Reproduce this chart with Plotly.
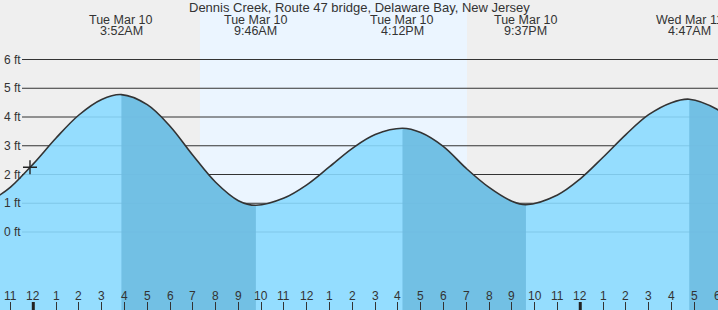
import plotly.graph_objects as go

# ---------------- data (hours relative to Tue Mar 10 00:00) ----------------
title_text = "Dennis Creek, Route 47 bridge, Delaware Bay, New Jersey"

curve_hours = [-1.5, -1, 0, 1, 2, 3, 3.867, 5, 6, 7, 8, 9, 9.767,
               11, 12, 13, 14, 15, 16.2, 17, 18, 19, 20, 21, 21.617,
               23, 24, 25, 26, 27, 28, 28.783, 30, 30.5]
curve_feet = [1.27, 1.56, 2.37, 3.27, 4.07, 4.61, 4.78, 4.43, 3.68, 2.67, 1.73, 1.09, 0.93,
              1.18, 1.64, 2.27, 2.91, 3.39, 3.61, 3.46, 2.97, 2.21, 1.55, 1.07, 0.95,
              1.29, 1.85, 2.60, 3.39, 4.08, 4.50, 4.62, 4.27, 3.96]

extreme_hours = [3.867, 9.767, 16.2, 21.617, 28.783]
extreme_kind = ["high", "low", "high", "low", "high"]
extreme_day = ["Tue Mar 10", "Tue Mar 10", "Tue Mar 10", "Tue Mar 10", "Wed Mar 11"]
extreme_time = ["3:52AM", "9:46AM", "4:12PM", "9:37PM", "4:47AM"]

sunrise_hour = 7.31
sunset_hour = 19.03

now_hour = -0.145
now_feet = 2.25

tick_hours = list(range(-1, 31))
tick_labels = ["11", "12", "1", "2", "3", "4", "5", "6", "7", "8", "9", "10", "11",
               "12", "1", "2", "3", "4", "5", "6", "7", "8", "9", "10", "11",
               "12", "1", "2", "3", "4", "5", "6"]
midnight_hours = [0, 24]

grid_feet = [0, 1, 2, 3, 4, 5, 6]
grid_labels = ["0 ft", "1 ft", "2 ft", "3 ft", "4 ft", "5 ft", "6 ft"]

# ---------------- view ----------------
x_range = [-1.461, 30.044]
y_range = [-2.713, 8.07]

FONT = "Liberation Sans, Arial, sans-serif"
TXT = "#333333"
BG = "#efefef"
DAY = "#ebf5ff"
LIGHT = "rgba(137,218,255,0.89)"
DARK = "rgba(110,188,225,0.89)"
SMOOTH = 1.0

fig = go.Figure()

def add_fill(xa, color):
    fig.add_trace(go.Scatter(x=[curve_hours[0], curve_hours[-1]], y=[y_range[0] - 1, y_range[0] - 1],
                             mode="lines", line=dict(width=0), xaxis=xa, yaxis="y",
                             hoverinfo="skip", showlegend=False))
    fig.add_trace(go.Scatter(x=curve_hours, y=curve_feet, mode="lines",
                             line=dict(width=0, shape="spline", smoothing=SMOOTH, simplify=False),
                             fill="tonexty", fillcolor=color, xaxis=xa, yaxis="y",
                             hoverinfo="skip", showlegend=False))

# light fill over whole period
add_fill("x", LIGHT)

# dark (falling tide) regions, each clipped by its own sub-domain
falling = []
for i, k in enumerate(extreme_kind):
    if k == "high":
        a = extreme_hours[i]
        b = extreme_hours[i + 1] if i + 1 < len(extreme_hours) else x_range[1]
        falling.append((a, b))

span = x_range[1] - x_range[0]
layout_axes = {}
for j, (a, b) in enumerate(falling):
    n = j + 2
    layout_axes[f"xaxis{n}"] = dict(domain=[(a - x_range[0]) / span, (b - x_range[0]) / span],
                                    range=[a, b], anchor="y", visible=False, fixedrange=True)
    add_fill(f"x{n}", DARK)

top_n = len(falling) + 2
top_x = f"x{top_n}"
layout_axes[f"xaxis{top_n}"] = dict(domain=[0, 1], range=x_range, anchor="y",
                                    showgrid=False, zeroline=False, showline=False,
                                    ticks="inside", ticklen=8, tickwidth=1, tickcolor=TXT,
                                    tickvals=tick_hours, showticklabels=False)

# outline
fig.add_trace(go.Scatter(x=curve_hours, y=curve_feet, mode="lines",
                         line=dict(color="#333333", width=1.6, shape="spline", smoothing=SMOOTH,
                                   simplify=False),
                         xaxis=top_x, yaxis="y", hoverinfo="skip", showlegend=False))
# current time marker
fig.add_trace(go.Scatter(x=[now_hour], y=[now_feet], mode="markers",
                         marker=dict(symbol="cross-thin", size=10, line=dict(color="#222222", width=1.4)),
                         xaxis=top_x, yaxis="y", hoverinfo="skip", showlegend=False))

shapes = [dict(type="rect", xref="x", yref="paper", x0=sunrise_hour, x1=sunset_hour, y0=0, y1=1,
               fillcolor=DAY, line=dict(width=0), layer="below")]
for g in grid_feet:
    shapes.append(dict(type="line", xref="paper", yref="y", x0=22 / 718, x1=1, y0=g, y1=g,
                       line=dict(color="#333333", width=1), layer="below"))
for m in midnight_hours:
    shapes.append(dict(type="line", xref=top_x, yref="paper", x0=m, x1=m, y0=0, y1=8 / 310,
                       line=dict(color="#222222", width=3), layer="above"))

annotations = [dict(text=title_text, xref="paper", yref="paper", x=0.5, y=1 - 8 / 310,
                    xanchor="center", yanchor="middle", showarrow=False,
                    font=dict(family=FONT, size=13, color=TXT))]
for h, d, t in zip(extreme_hours, extreme_day, extreme_time):
    annotations.append(dict(text=d, xref="x", yref="paper", x=h, y=1 - 20 / 310,
                            xanchor="center", yanchor="middle", showarrow=False,
                            font=dict(family=FONT, size=12.5, color=TXT)))
    annotations.append(dict(text=t, xref="x", yref="paper", x=h, y=1 - 31.5 / 310,
                            xanchor="center", yanchor="middle", showarrow=False,
                            font=dict(family=FONT, size=12.5, color=TXT)))
for g, lab in zip(grid_feet, grid_labels):
    annotations.append(dict(text=lab, xref="paper", yref="y", x=2 / 718, y=g,
                            xanchor="left", yanchor="middle", showarrow=False,
                            font=dict(family=FONT, size=12, color=TXT)))
for h, lab in zip(tick_hours, tick_labels):
    annotations.append(dict(text=lab, xref="x", yref="paper", x=h, y=1 - 295.5 / 310,
                            xanchor="center", yanchor="middle", showarrow=False,
                            font=dict(family=FONT, size=12, color=TXT)))

fig.update_layout(
    width=718, height=310,
    margin=dict(l=0, r=0, t=0, b=0),
    paper_bgcolor=BG, plot_bgcolor="rgba(0,0,0,0)",
    xaxis=dict(domain=[0, 1], range=x_range, visible=False, fixedrange=True),
    yaxis=dict(domain=[0, 1], range=y_range, visible=False, fixedrange=True),
    shapes=shapes, annotations=annotations,
    showlegend=False,
    **layout_axes,
)

fig.write_html("out.html", config={"displayModeBar": False})
